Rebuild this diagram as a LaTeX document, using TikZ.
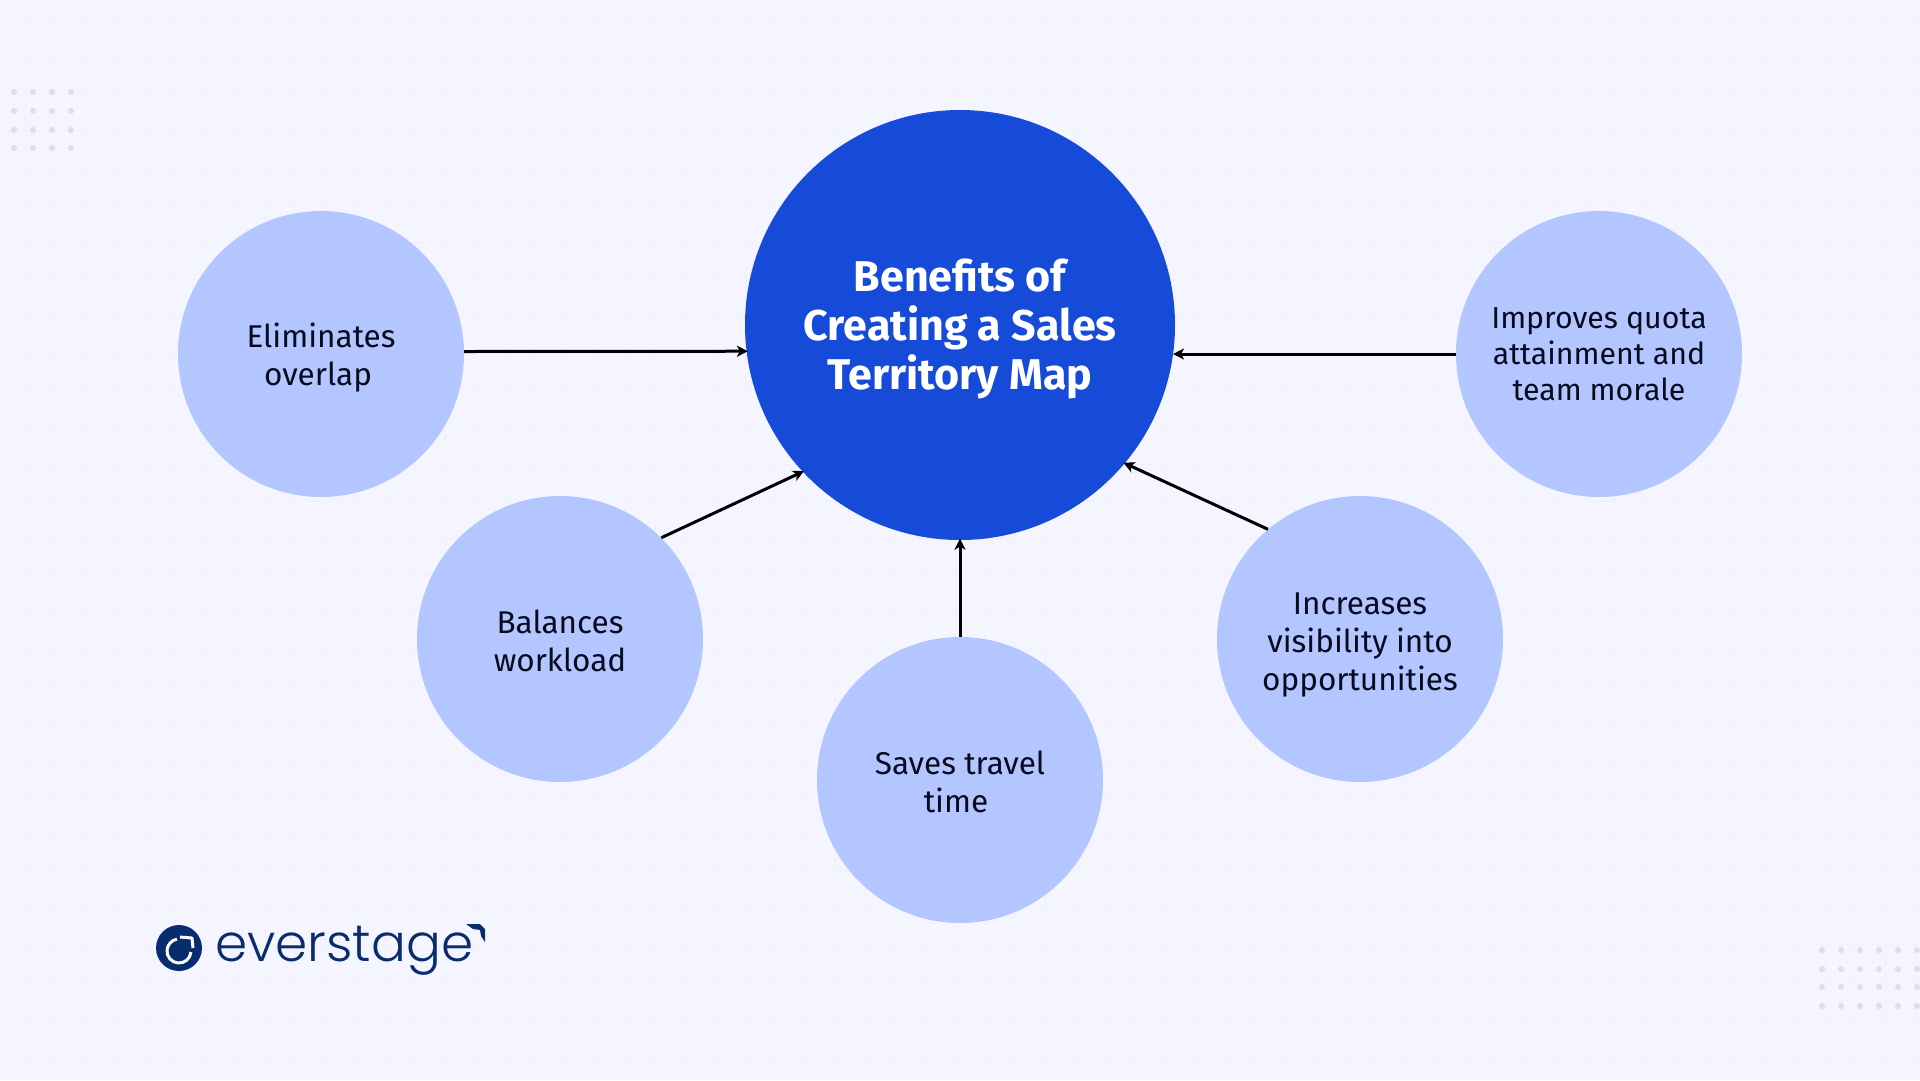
\documentclass[tikz,border=0pt]{standalone}
\usepackage{fontspec}
\setmainfont{Fira Sans}
\newfontfamily\logofont[UprightFont=* Light]{Poppins}
\usetikzlibrary{arrows.meta, positioning}
\definecolor{fondoPlano}{RGB}{244,245,255}
\definecolor{lineaMalla}{RGB}{240,241,252}
\definecolor{puntoGris}{RGB}{222,222,232}
\definecolor{azulHub}{RGB}{22,75,217}
\definecolor{azulItem}{RGB}{179,198,255}
\definecolor{azulLogo}{RGB}{8,44,110}
\definecolor{tintaTexto}{RGB}{8,10,30}
\newcommand{\bajar}[1]{\rule{0pt}{\dimexpr\fontcharht\font`l+#1*2\relax}}
\tikzset{
  bm/hub/.style={circle, fill=azulHub, minimum size=430pt, inner sep=0pt,
    font=\fontsize{43}{49}\selectfont\bfseries\color{white}, align=center},
  bm/item/.style={circle, fill=azulItem, minimum size=286pt, inner sep=0pt,
    font=\fontsize{31.5}{38}\selectfont\color{tintaTexto}, align=center},
  bm/arr/.style={-{Stealth[length=11pt,width=11pt,inset=3pt]}, line width=3pt,
    draw=black, shorten >=-1.5pt},
  bm/dot/.style={fill=puntoGris, draw=none},
  bm/mesh/.style={draw=lineaMalla, line width=1pt},
  bm/word/.style={font=\fontsize{51.7}{52}\logofont\color{azulLogo},
    anchor=base west, inner sep=0pt}
}
\begin{document}
\begin{tikzpicture}[x=1pt, y=-1pt]
  \useasboundingbox (0,0) rectangle (1920,1080);
  \fill[fondoPlano] (0,0) rectangle (1920,1080);

  % Malla de fondo
  \foreach \mx in {25,55,...,1915}
    \draw[bm/mesh] (\mx,0) -- (\mx,1080);
  \foreach \my in {20,57,...,1080}
    \draw[bm/mesh] (0,\my) -- (1920,\my);

  % Puntos de las esquinas
  \foreach \px in {14,33,52,71}
    \foreach \py in {92,111,130,148}
      \fill[bm/dot] (\px,\py) circle (3pt);
  \foreach \px in {1822,1841,1860,1879,1898,1917}
    \foreach \py in {950,969,987,1006}
      \fill[bm/dot] (\px,\py) circle (3pt);

  % Circulo central y beneficios
  \node[bm/hub]  at (960, 325) (hub) {\bajar{4pt}Benefits of\\Creating a Sales\\Territory Map};
  \node[bm/item] at (321, 354) (elim) {\bajar{4.5pt}Eliminates\\overlap\kern6pt};
  \node[bm/item] at (560, 639) (bal)  {\bajar{2pt}Balances\\workload};
  \node[bm/item] at (960, 780) (sav)  {\bajar{2pt}Saves travel\\time\kern8pt};
  \node[bm/item] at (1360, 639) (inc) {\bajar{5pt}Increases\\visibility into\\opportunities};
  \node[bm/item, font=\fontsize{30.3}{36}\selectfont\color{tintaTexto}]
        at (1599, 354) (imp) {Improves quota\\attainment and\\team morale};
  \coordinate (hubE) at (1174.5, 354);

  % --- Flechas hacia el centro ---
  \draw[bm/arr] (elim.1)  -- (hub.187);
  \draw[bm/arr] (bal.45)  -- (hub.223);
  \draw[bm/arr] (sav.north) -- (hub.south);
  \draw[bm/arr] (inc.130) -- (hub.-40);
  \draw[bm/arr] (imp.west) -- (hubE);

  % Logotipo
  \node[circle, fill=azulLogo, minimum size=46pt, inner sep=0pt] at (179, 948) (logo) {};
  \draw[white, line width=3pt] (logo.center) ++(0,3) ++(-5:12pt) arc (-5:-260:12pt);
  \draw[white, line width=3pt, line join=round] (180,937) -- (192,938) -- (193,948);
  \node[bm/word] at (215, 961) (word) {everstage};
  \fill[azulLogo] (466,924) -- (480,924) -- (485,929) -- (485,942) -- (481,936) -- (480,930) -- (473,929) -- cycle;
\end{tikzpicture}
\end{document}
